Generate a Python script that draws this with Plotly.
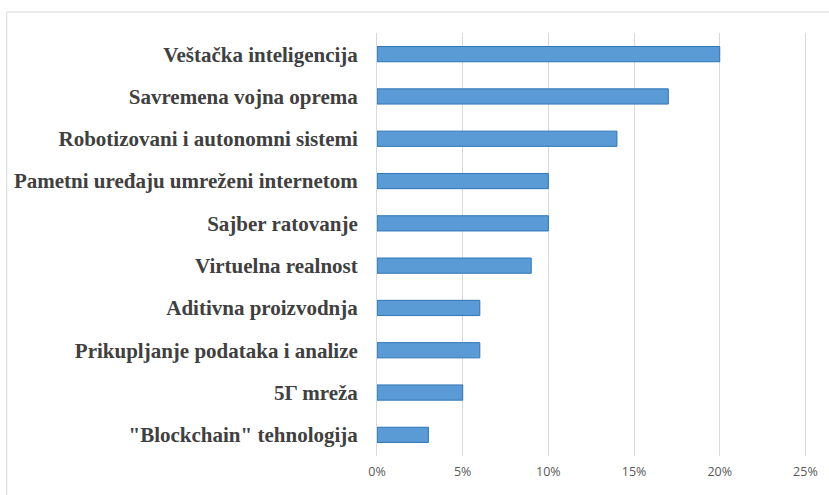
import plotly.graph_objects as go

# kategorije i udeli (%)
kategorije = [
    "Veštačka inteligencija",
    "Savremena vojna oprema",
    "Robotizovani i autonomni sistemi",
    "Pametni uređaju umreženi internetom",
    "Sajber ratovanje",
    "Virtuelna realnost",
    "Aditivna proizvodnja",
    "Prikupljanje podataka i analize",
    "5Γ mreža",
    "\"Blockchain\" tehnologija",
]
udeli = [20, 17, 14, 10, 10, 9, 6, 6, 5, 3]
x_tickovi = [0, 5, 10, 15, 20, 25]

fig = go.Figure(go.Bar(
    x=udeli,
    y=kategorije,
    orientation="h",
    width=0.36,
    marker=dict(color="#5B9BD5", line=dict(color="#2E75B6", width=1)),
))

fig.update_layout(
    width=829, height=495,
    margin=dict(l=377, r=11, t=33, b=39),
    paper_bgcolor="white", plot_bgcolor="white",
    showlegend=False,
    shapes=[dict(type="rect", xref="paper", yref="paper",
                 x0=-0.859, x1=1.2, y0=-0.3, y1=1.0496,
                 line=dict(color="#d9d9d9", width=1), layer="below")],
)

fig.update_xaxes(
    range=[0, 25.15], tickvals=x_tickovi,
    ticktext=[f"{v}%" for v in x_tickovi],
    showgrid=True, gridcolor="#d9d9d9", gridwidth=1,
    zeroline=False, showline=False,
    tickfont=dict(family="Open Sans", size=12.5, color="#595959"),
    ticklabelstandoff=6,
)
fig.update_yaxes(
    categoryorder="array", categoryarray=kategorije[::-1],
    showgrid=False, zeroline=False, showline=True,
    linecolor="#d9d9d9", linewidth=1,
    tickfont=dict(family="Liberation Serif", size=21, color="#404040", weight="bold"),
    ticklabelstandoff=14,
)

fig.write_html("out.html", config={"displayModeBar": False},
               post_script="document.body.style.margin='0';")
